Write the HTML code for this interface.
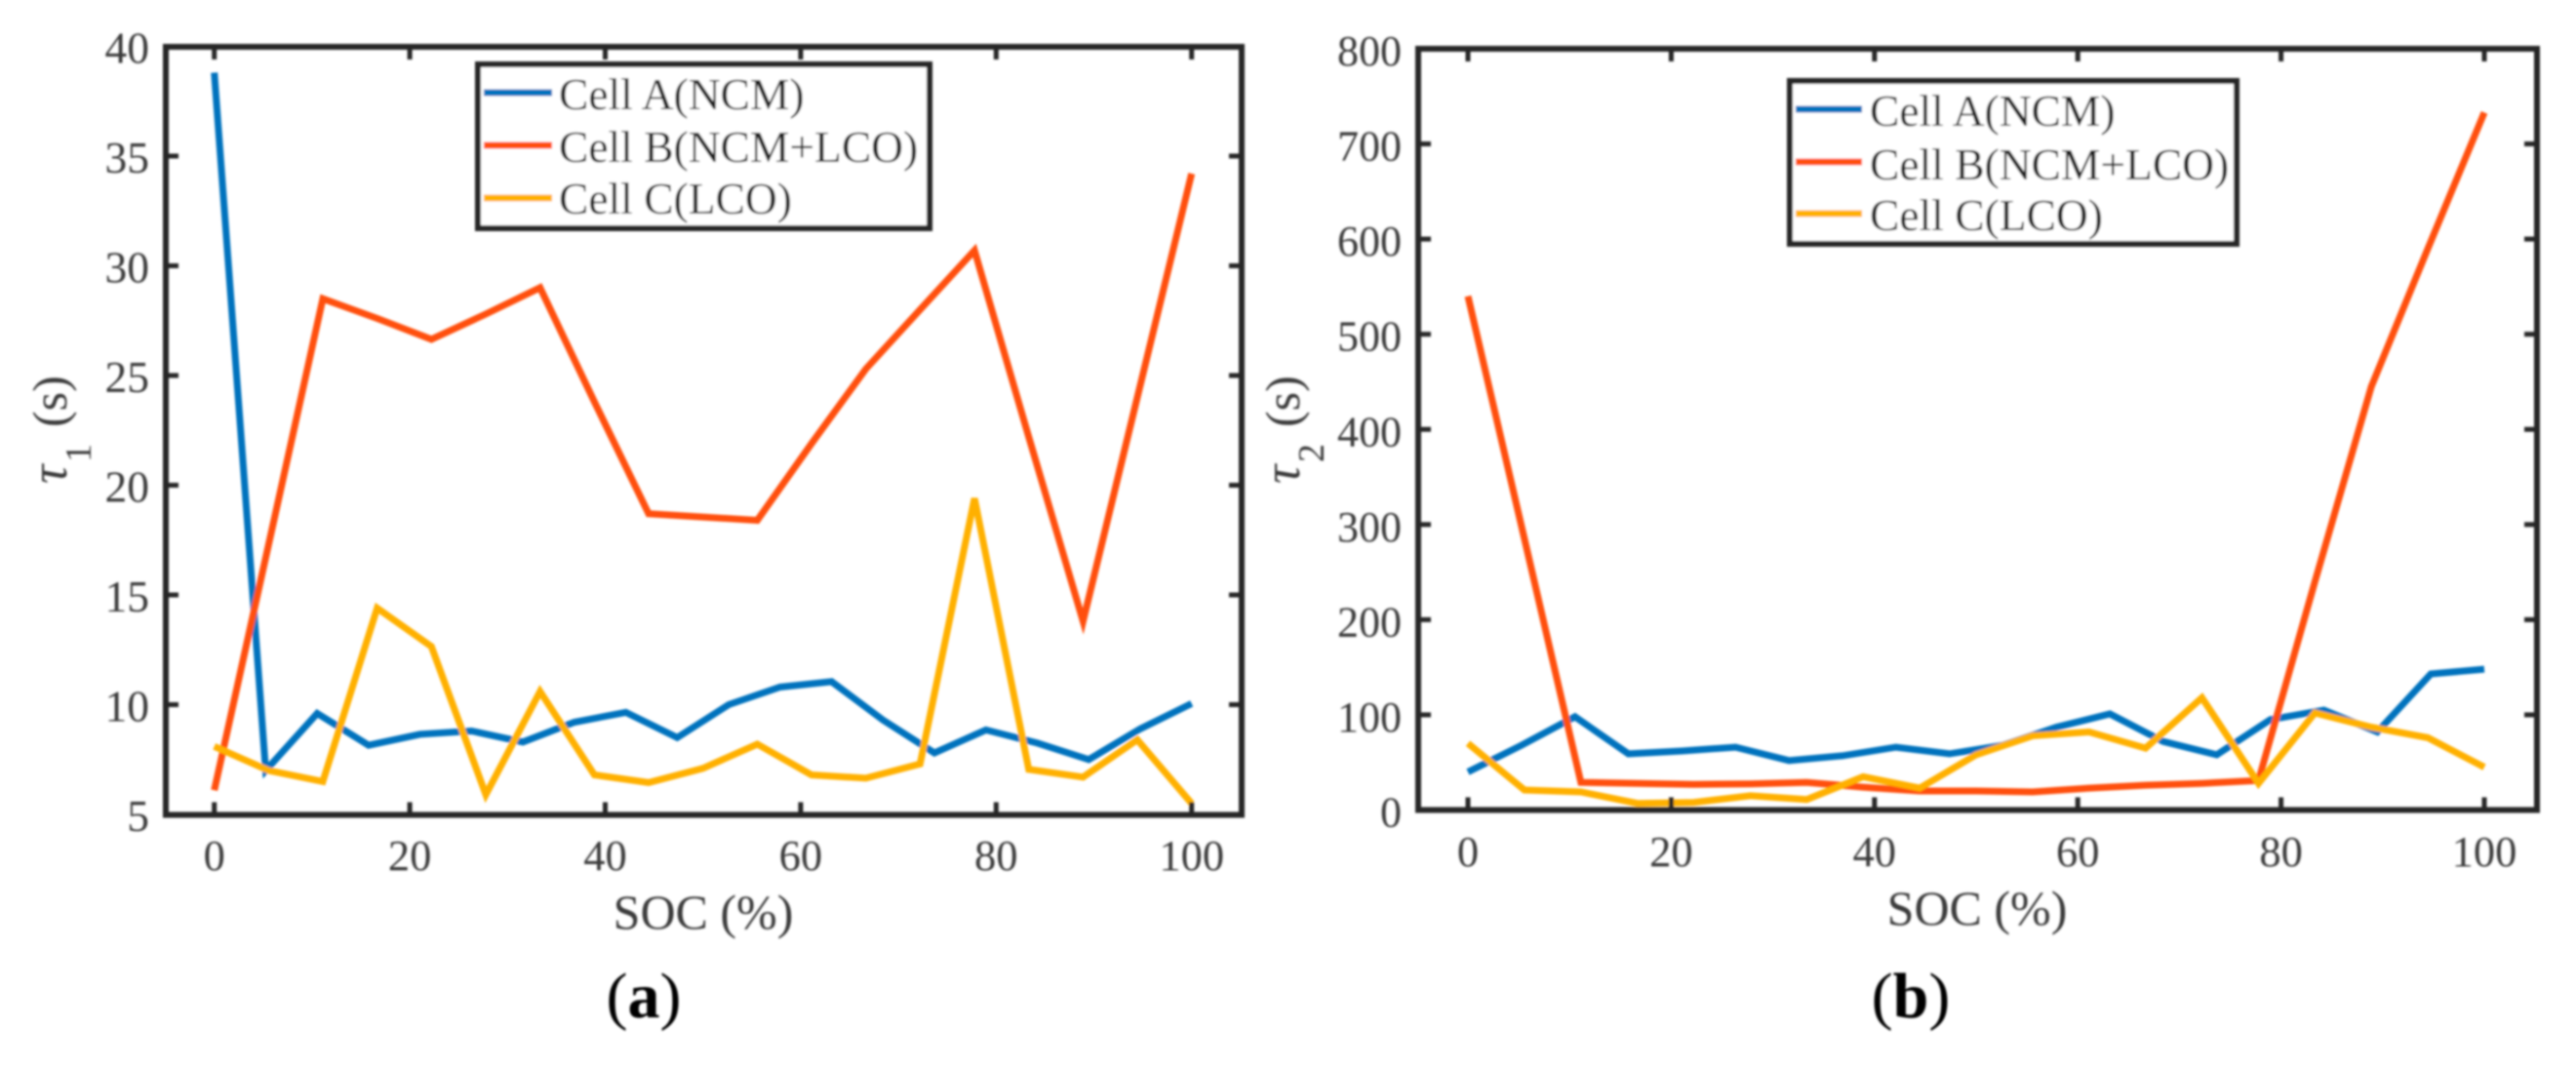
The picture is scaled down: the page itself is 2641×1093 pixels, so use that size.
<!DOCTYPE html>
<html lang="en">
<head>
<meta charset="utf-8">
<title>Time constants vs SOC</title>
<style>
html,body{margin:0;padding:0;background:#fff;width:2641px;height:1093px;overflow:hidden}
svg{display:block}
text{font-family:"Liberation Serif","DejaVu Serif",serif}
.tick{fill:#3a3a3a;font-size:44.5px}
.axt{fill:#3a3a3a;font-size:50px}
.leg{fill:#1c1c1c;font-size:45.5px}
.cap{fill:#000;font-size:66px}
</style>
</head>
<body>
<svg id="fig" xmlns="http://www.w3.org/2000/svg" width="2641" height="1093" viewBox="0 0 2641 1093">
<defs><filter id="soft" x="-2%" y="-2%" width="104%" height="104%"><feGaussianBlur stdDeviation="1.05"/></filter></defs>
<rect width="2641" height="1093" fill="#fff"/>
<g id="root" filter="url(#soft)">
  <g id="panelA"></g>
  <g id="panelB"></g>

  <text class="axt" x="721" y="952" text-anchor="middle">SOC (%)</text>
  <text class="axt" x="2027" y="948" text-anchor="middle">SOC (%)</text>

  <g>
    <text class="axt" transform="translate(68,496) rotate(-90)" font-style="italic" style="font-size:54px">τ</text>
    <text class="axt" transform="translate(93,474) rotate(-90)" style="font-size:38px">1</text>
    <text class="axt" transform="translate(68,438) rotate(-90)">(s)</text>
  </g>
  <g>
    <text class="axt" transform="translate(1332,496) rotate(-90)" font-style="italic" style="font-size:54px">τ</text>
    <text class="axt" transform="translate(1357,474) rotate(-90)" style="font-size:38px">2</text>
    <text class="axt" transform="translate(1332,438) rotate(-90)">(s)</text>
  </g>

  <g>
    <rect x="490" y="66" width="463" height="168" fill="#fff" stroke="#262626" stroke-width="6"/>
    <line x1="496" x2="566" y1="95" y2="95" stroke="#0072BD" stroke-width="7"/>
    <line x1="496" x2="566" y1="149" y2="149" stroke="#FF5010" stroke-width="7"/>
    <line x1="496" x2="566" y1="203" y2="203" stroke="#FFB000" stroke-width="7"/>
    <text class="leg" x="573" y="112">Cell A(NCM)</text>
    <text class="leg" x="573" y="166">Cell B(NCM+LCO)</text>
    <text class="leg" x="573" y="219">Cell C(LCO)</text>
  </g>
  <g>
    <rect x="1835" y="83" width="458" height="167" fill="#fff" stroke="#262626" stroke-width="6"/>
    <line x1="1841" x2="1909" y1="112" y2="112" stroke="#0072BD" stroke-width="7"/>
    <line x1="1841" x2="1909" y1="166" y2="166" stroke="#FF5010" stroke-width="7"/>
    <line x1="1841" x2="1909" y1="219" y2="219" stroke="#FFB000" stroke-width="7"/>
    <text class="leg" x="1917" y="129">Cell A(NCM)</text>
    <text class="leg" x="1917" y="184">Cell B(NCM+LCO)</text>
    <text class="leg" x="1917" y="236">Cell C(LCO)</text>
  </g>

  <text class="cap" x="660" y="1043" text-anchor="middle">(<tspan font-weight="bold">a</tspan>)</text>
  <text class="cap" x="1959" y="1043" text-anchor="middle">(<tspan font-weight="bold">b</tspan>)</text>
</g>
</svg>
<script>
const socCellA = [0,5.26,10.53,15.79,21.05,26.32,31.58,36.84,42.11,47.37,52.63,57.89,63.16,68.42,73.68,78.95,84.21,89.47,94.74,100];
const socCellBC = [0,5.56,11.11,16.67,22.22,27.78,33.33,38.89,44.44,50,55.56,61.11,66.67,72.22,77.78,83.33,88.89,94.44,100];

const tau1CellA = [38.8,7.0,9.6,8.15,8.65,8.8,8.3,9.2,9.65,8.5,10.0,10.8,11.05,9.3,7.8,8.85,8.25,7.5,8.9,10.05];
const tau1CellB = [6.1,17.3,28.5,27.6,26.65,27.8,29.0,23.8,18.7,18.55,18.4,21.9,25.3,28.0,30.7,22.2,13.8,24.0,34.2];
const tau1CellC = [8.1,7.0,6.5,14.4,12.65,5.9,10.6,6.8,6.45,7.1,8.2,6.8,6.65,7.3,19.4,7.05,6.7,8.4,5.5];

const tau2CellA = [40,68,98,59,62,66,52,57,66,59,68,87,101,72,58,95,105,82,143,148];
const tau2CellB = [540,285,29,28,27,27.5,29,24,20,20,19,23,26,28,31,240,445,590,733];
const tau2CellC = [70,21,19,7,8,15,11,35,23,58,78,82,65,118,28,102,87,76,45];

const xTicks = [0,20,40,60,80,100];
const yTicksA = [5,10,15,20,25,30,35,40];
const yTicksB = [0,100,200,300,400,500,600,700,800];

const NS = 'http://www.w3.org/2000/svg';

function drawPanel(g, box, values, yTicks, tickFont) {
  const xs = v => box.x0 + (v - 0) * (box.x100 - box.x0) / 100;
  const ys = v => box.yBot + (v - yTicks[0]) * (box.yTop - box.yBot) / (yTicks[yTicks.length - 1] - yTicks[0]);

  values.forEach((s) => {
    const d = s.y.map((v, i) => (i ? 'L' : 'M') + xs(s.x[i]).toFixed(1) + ' ' + ys(v).toFixed(1)).join(' ');
    const p = document.createElementNS(NS, 'path');
    p.setAttribute('d', d);
    p.setAttribute('fill', 'none');
    p.setAttribute('stroke', s.color);
    p.setAttribute('stroke-width', '7');
    
    
    g.appendChild(p);
  });

  const tickLen = 13;
  xTicks.forEach((t) => {
    [[box.bottom, box.bottom - tickLen], [box.top, box.top + tickLen]].forEach((e) => {
      const l = document.createElementNS(NS, 'line');
      l.setAttribute('x1', xs(t));
      l.setAttribute('x2', xs(t));
      l.setAttribute('y1', e[0]);
      l.setAttribute('y2', e[1]);
      l.setAttribute('stroke', '#262626');
      l.setAttribute('stroke-width', '5');
      
      
      g.appendChild(l);
    });
    const tx = document.createElementNS(NS, 'text');
    tx.setAttribute('class', 'tick');
    tx.setAttribute('x', xs(t));
    tx.setAttribute('y', box.xLabelY);
    tx.setAttribute('text-anchor', 'middle');
    
    
    tx.textContent = String(t);
    g.appendChild(tx);
  });

  yTicks.forEach((t) => {
    [[box.left, box.left + tickLen], [box.right, box.right - tickLen]].forEach((e) => {
      const l = document.createElementNS(NS, 'line');
      l.setAttribute('x1', e[0]);
      l.setAttribute('x2', e[1]);
      l.setAttribute('y1', ys(t));
      l.setAttribute('y2', ys(t));
      l.setAttribute('stroke', '#262626');
      l.setAttribute('stroke-width', '5');
      
      
      g.appendChild(l);
    });
    const tx = document.createElementNS(NS, 'text');
    tx.setAttribute('class', 'tick');
    tx.setAttribute('x', box.yLabelX);
    tx.setAttribute('y', ys(t) + 17);
    tx.setAttribute('text-anchor', 'end');
    tx.style.fontSize = tickFont + 'px';
    
    
    tx.textContent = String(t);
    g.appendChild(tx);
  });

  const frame = document.createElementNS(NS, 'rect');
  frame.setAttribute('x', box.left);
  frame.setAttribute('y', box.top);
  frame.setAttribute('width', box.right - box.left);
  frame.setAttribute('height', box.bottom - box.top);
  frame.setAttribute('fill', 'none');
  frame.setAttribute('stroke', '#262626');
  frame.setAttribute('stroke-width', '6');
  
  
  g.appendChild(frame);
}

drawPanel(document.getElementById('panelA'),
  {left:170,right:1273,top:48,bottom:835.5,x0:219.7,x100:1221.7,yTop:47.5,yBot:835,xLabelY:892,yLabelX:153},
  [
    {name:'line-cell-a',color:'#0072BD',x:socCellA,y:tau1CellA},
    {name:'line-cell-b',color:'#FF5010',x:socCellBC,y:tau1CellB},
    {name:'line-cell-c',color:'#FFB000',x:socCellBC,y:tau1CellC}
  ], yTicksA, 45.5);

drawPanel(document.getElementById('panelB'),
  {left:1454,right:2601,top:50,bottom:830.5,x0:1505,x100:2547,yTop:50,yBot:830.5,xLabelY:888,yLabelX:1437},
  [
    {name:'line-cell-a',color:'#0072BD',x:socCellA,y:tau2CellA},
    {name:'line-cell-b',color:'#FF5010',x:socCellBC,y:tau2CellB},
    {name:'line-cell-c',color:'#FFB000',x:socCellBC,y:tau2CellC}
  ], yTicksB, 44);
</script>
</body>
</html>
